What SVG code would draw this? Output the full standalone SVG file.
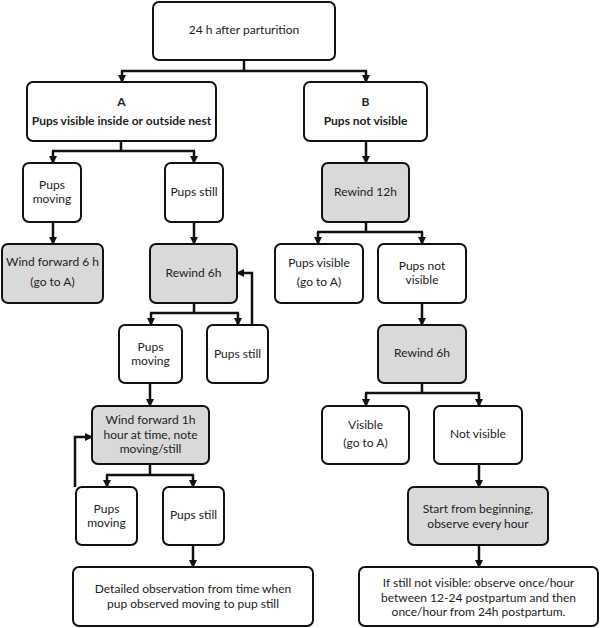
<svg xmlns="http://www.w3.org/2000/svg" width="600" height="628" viewBox="0 0 600 628">
<style>
  .box{fill:#fff;stroke:#111;stroke-width:2}
  .g{fill:#d9d9d9}
  text{font-family:Lato,"Liberation Sans",sans-serif;font-size:12px;fill:#222;text-anchor:middle}
  .b{font-weight:bold}
  .c{fill:none;stroke:#111;stroke-width:2.5}
</style>
<defs>
  <marker id="ar" markerUnits="userSpaceOnUse" viewBox="0 0 8 8" refX="7" refY="4" markerWidth="8" markerHeight="8" orient="auto">
    <path d="M0,0 L8,4 L0,8 z" fill="#111"/>
  </marker>
</defs>
<rect width="600" height="628" fill="#fff"/>
<g id="connectors">
  <path class="c" d="M244 60 V71 M121 71 H367"/>
  <path class="c" d="M122 71 V82" marker-end="url(#ar)"/>
  <path class="c" d="M366 71 V82" marker-end="url(#ar)"/>
  <path class="c" d="M121 141 V151 M52 151 H195"/>
  <path class="c" d="M53 151 V163" marker-end="url(#ar)"/>
  <path class="c" d="M194 151 V163" marker-end="url(#ar)"/>
  <path class="c" d="M53 222 V244" marker-end="url(#ar)"/>
  <path class="c" d="M194 222 V244" marker-end="url(#ar)"/>
  <path class="c" d="M194 303 V313 M150 313 H239"/>
  <path class="c" d="M151 313 V325" marker-end="url(#ar)"/>
  <path class="c" d="M238 313 V325" marker-end="url(#ar)"/>
  <path class="c" d="M252 325 V273 H237" marker-end="url(#ar)"/>
  <path class="c" d="M150 383 V406" marker-end="url(#ar)"/>
  <path class="c" d="M150 464 V475 M106 475 H194"/>
  <path class="c" d="M107 475 V487" marker-end="url(#ar)"/>
  <path class="c" d="M193 475 V487" marker-end="url(#ar)"/>
  <path class="c" d="M75 487 V437 H92" marker-end="url(#ar)"/>
  <path class="c" d="M193 545 V567" marker-end="url(#ar)"/>
  <path class="c" d="M366 141 V163" marker-end="url(#ar)"/>
  <path class="c" d="M366 222 V232 M317 232 H423"/>
  <path class="c" d="M318 232 V244" marker-end="url(#ar)"/>
  <path class="c" d="M422 232 V244" marker-end="url(#ar)"/>
  <path class="c" d="M422 303 V325" marker-end="url(#ar)"/>
  <path class="c" d="M422 383 V393 M365 393 H480"/>
  <path class="c" d="M366 393 V406" marker-end="url(#ar)"/>
  <path class="c" d="M479 393 V406" marker-end="url(#ar)"/>
  <path class="c" d="M479 464 V487" marker-end="url(#ar)"/>
  <path class="c" d="M479 545 V567" marker-end="url(#ar)"/>
</g>
<g id="n1"><rect class="box" x="153" y="2" width="182" height="58" rx="6"/><text x="244" y="34">24 h after parturition</text></g>
<g id="nA"><rect class="box" x="27" y="82" width="189" height="59" rx="6"/><text class="b" x="121.5" y="106">A</text><text class="b" x="121.5" y="125">Pups visible inside or outside nest</text></g>
<g id="nB"><rect class="box" x="304" y="82" width="123" height="59" rx="6"/><text class="b" x="365.5" y="106">B</text><text class="b" x="365.5" y="125">Pups not visible</text></g>
<g id="nA1"><rect class="box" x="23" y="163" width="58" height="59" rx="6"/><text x="52" y="189">Pups</text><text x="52" y="203">moving</text></g>
<g id="nA2"><rect class="box" x="165" y="163" width="58" height="59" rx="6"/><text x="194" y="196">Pups still</text></g>
<g id="nA3"><rect class="box g" x="2" y="244" width="101" height="59" rx="6"/><text x="52.5" y="266">Wind forward 6 h</text><text x="52.5" y="286">(go to A)</text></g>
<g id="nA4"><rect class="box g" x="150" y="244" width="87" height="59" rx="6"/><text x="193.5" y="277">Rewind 6h</text></g>
<g id="nA5"><rect class="box" x="119" y="325" width="63" height="58" rx="6"/><text x="150.5" y="351">Pups</text><text x="150.5" y="365">moving</text></g>
<g id="nA6"><rect class="box" x="207" y="325" width="61" height="58" rx="6"/><text x="237.5" y="358">Pups still</text></g>
<g id="nA7"><rect class="box g" x="92" y="406" width="117" height="58" rx="6"/><text x="150.5" y="424">Wind forward 1h</text><text x="150.5" y="438.5">hour at time, note</text><text x="150.5" y="453">moving/still</text></g>
<g id="nA8"><rect class="box" x="76" y="487" width="61" height="58" rx="6"/><text x="106.5" y="513">Pups</text><text x="106.5" y="527">moving</text></g>
<g id="nA9"><rect class="box" x="163" y="487" width="61" height="58" rx="6"/><text x="193.5" y="519">Pups still</text></g>
<g id="nA10"><rect class="box" x="73" y="567" width="240" height="59" rx="6"/><text x="193" y="593">Detailed observation from time when</text><text x="193" y="608">pup  observed moving to pup still</text></g>
<g id="nB1"><rect class="box g" x="322" y="163" width="87" height="59" rx="6"/><text x="365.5" y="196">Rewind 12h</text></g>
<g id="nB2"><rect class="box" x="275" y="244" width="88" height="59" rx="6"/><text x="319" y="267">Pups visible</text><text x="319" y="286">(go to A)</text></g>
<g id="nB3"><rect class="box" x="378" y="244" width="88" height="59" rx="6"/><text x="422" y="270">Pups not</text><text x="422" y="284">visible</text></g>
<g id="nB4"><rect class="box g" x="378" y="325" width="88" height="58" rx="6"/><text x="422" y="357">Rewind 6h</text></g>
<g id="nB5"><rect class="box" x="322" y="406" width="87" height="58" rx="6"/><text x="365.5" y="429">Visible</text><text x="365.5" y="447">(go to A)</text></g>
<g id="nB6"><rect class="box" x="434" y="406" width="88" height="58" rx="6"/><text x="478" y="438">Not visible</text></g>
<g id="nB7"><rect class="box g" x="408" y="487" width="140" height="58" rx="6"/><text x="478" y="513">Start from beginning,</text><text x="478" y="528">observe every hour</text></g>
<g id="nB8"><rect class="box" x="359" y="567" width="239" height="59" rx="6"/><text x="478.5" y="587">If still not visible: observe once/hour</text><text x="478.5" y="601.5">between 12-24 postpartum and then</text><text x="478.5" y="616">once/hour from 24h postpartum.</text></g>
</svg>
